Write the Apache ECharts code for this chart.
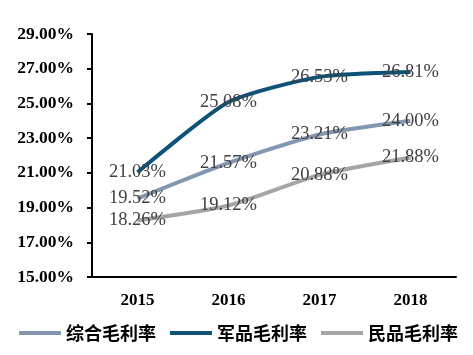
<!DOCTYPE html>
<html><head><meta charset="utf-8">
<script src="https://cdn.jsdelivr.net/npm/echarts@6/dist/echarts.min.js"></script>
<style>html,body{margin:0;padding:0;background:#fff}#c{width:473px;height:355px}</style>
</head><body><div id="c"></div>
<script>
const categories = ['2015', '2016', '2017', '2018'];
const seriesNames = ['综合毛利率', '军品毛利率', '民品毛利率'];
const composite = [19.52, 21.57, 23.21, 24.00];
const military = [21.03, 25.08, 26.53, 26.81];
const civil = [18.26, 19.12, 20.88, 21.88];
const yTicks = [15, 17, 19, 21, 23, 25, 27, 29];
const colors = ['#8497b0', '#0e5278', '#a5a5a5'];

const chart = echarts.init(document.getElementById('c'));
const labelStyle = {
  show: true, position: 'inside', offset: [0, 2],
  fontFamily: 'Liberation Serif', fontSize: 18.5, color: '#404040',
  formatter: p => p.value.toFixed(2) + '%'
};
function mk(name, data, color) {
  return {
    name, type: 'line', data, smooth: 0.2, showSymbol: true, symbol: 'circle', symbolSize: 0.01,
    lineStyle: { color, width: 4 }, itemStyle: { color },
    label: labelStyle, labelLayout: { hideOverlap: false }, z: 2
  };
}
chart.setOption({
  animation: false,
  grid: { left: 92, right: 17, top: 34, bottom: 78 },
  xAxis: {
    type: 'category', data: categories,
    axisLine: { lineStyle: { color: '#000', width: 2 } },
    axisTick: { show: false },
    axisLabel: { margin: 15, fontFamily: 'Liberation Serif', fontWeight: 'bold', fontSize: 17, color: '#000' }
  },
  yAxis: {
    type: 'value', min: 15, max: 29,
    splitLine: { show: false },
    axisLine: { show: true, lineStyle: { color: '#000', width: 2 } },
    axisTick: { show: true, length: 5, lineStyle: { color: '#000', width: 2 }, customValues: yTicks },
    axisLabel: { margin: 18, fontFamily: 'Liberation Serif', fontWeight: 'bold', fontSize: 17.5, color: '#000',
      customValues: yTicks, formatter: v => v.toFixed(2) + '%' }
  },
  legend: {
    left: 14, bottom: 8, itemGap: 14, itemWidth: 42, itemHeight: 4, icon: 'rect',
    textStyle: { fontFamily: 'Noto Sans CJK SC', fontWeight: 'bold', fontSize: 18, color: '#000' },
    data: seriesNames
  },
  series: [
    mk(seriesNames[0], composite, colors[0]),
    mk(seriesNames[1], military, colors[1]),
    mk(seriesNames[2], civil, colors[2])
  ]
});
</script></body></html>
